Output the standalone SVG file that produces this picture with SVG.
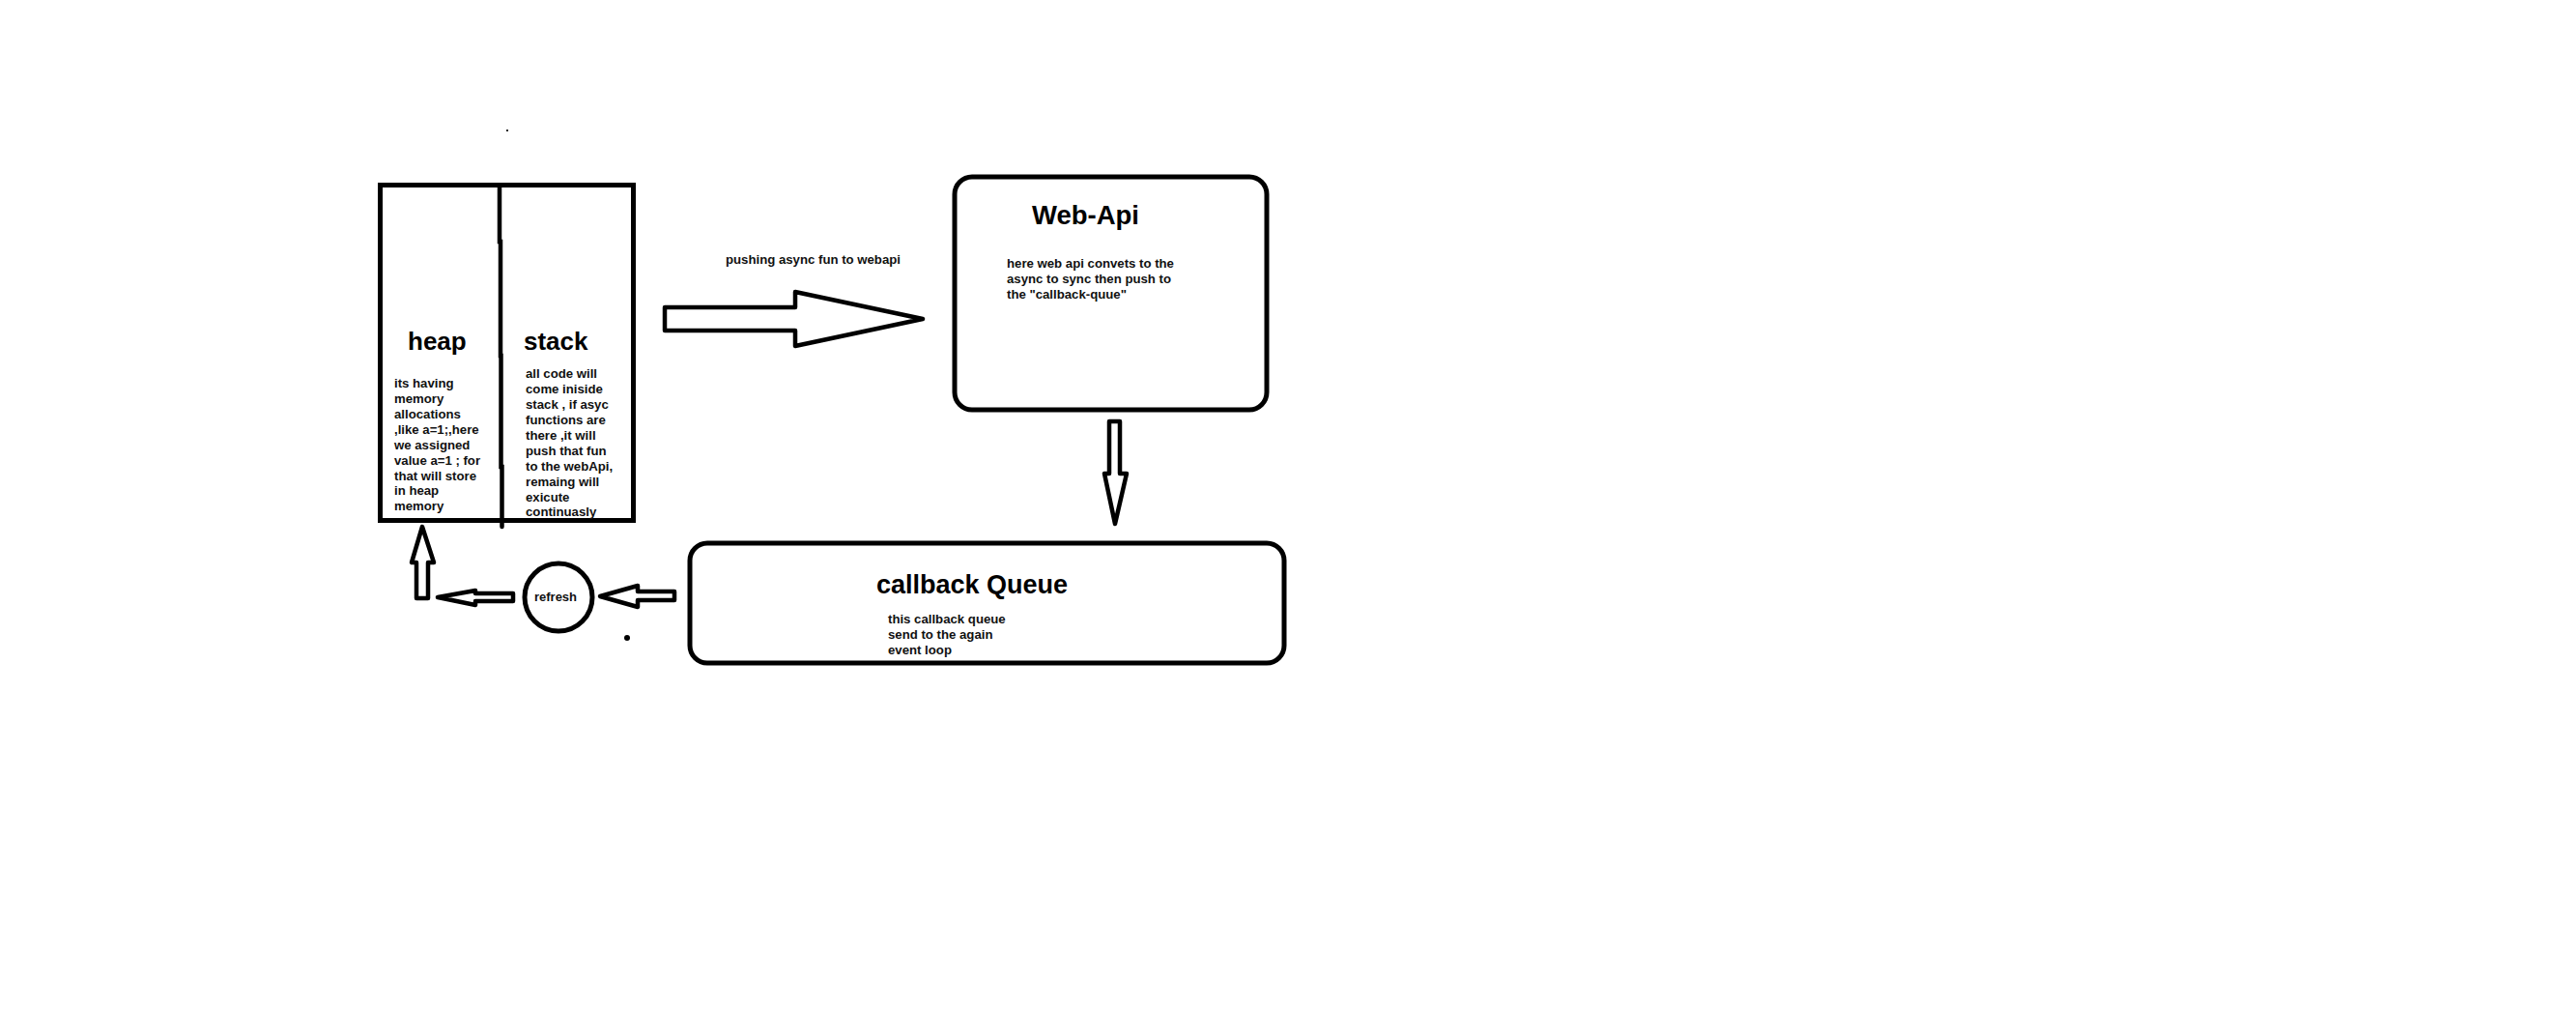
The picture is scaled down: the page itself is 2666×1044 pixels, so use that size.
<svg xmlns="http://www.w3.org/2000/svg" width="2666" height="1044" viewBox="0 0 2666 1044">
<style>
.box{fill:none;stroke:#000;stroke-width:5}
.conn{fill:none;stroke:#000;stroke-width:4.5;stroke-linejoin:round}
.title{font-family:"Liberation Sans",Arial,sans-serif;font-weight:bold;fill:#000}
.body{font-family:"Liberation Sans",Arial,sans-serif;font-weight:bold;font-size:13.2px;fill:#111}
</style>
<rect width="2666" height="1044" fill="#fff"/>
<rect x="524" y="134" width="2" height="2" fill="#222"/>
<g id="heap-stack">
<rect class="box" x="393.5" y="191.5" width="262" height="347"/>
<polyline points="517,192 517,250 518,250 518,368 518.5,368 518.5,483 519.5,483 519.5,545" fill="none" stroke="#000" stroke-width="4.5" stroke-linecap="round"/>
</g>
<g id="heap">
<text class="title" x="422" y="362" font-size="26">heap</text>
<text class="body" x="408"><tspan x="408" y="401">its having</tspan><tspan x="408" y="417">memory</tspan><tspan x="408" y="433">allocations</tspan><tspan x="408" y="448.5">,like a=1;,here</tspan><tspan x="408" y="464.5">we assigned</tspan><tspan x="408" y="480.5">value a=1 ; for</tspan><tspan x="408" y="496.5">that will store</tspan><tspan x="408" y="512">in heap</tspan><tspan x="408" y="528">memory</tspan></text>
</g>
<g id="stack">
<text class="title" x="542" y="362" font-size="26">stack</text>
<text class="body" x="544"><tspan x="544" y="391">all code will</tspan><tspan x="544" y="407">come iniside</tspan><tspan x="544" y="423">stack , if asyc</tspan><tspan x="544" y="439">functions are</tspan><tspan x="544" y="455">there ,it will</tspan><tspan x="544" y="470.5">push that fun</tspan><tspan x="544" y="486.5">to the webApi,</tspan><tspan x="544" y="502.5">remaing will</tspan><tspan x="544" y="518.5">exicute</tspan><tspan x="544" y="534">continuasly</tspan></text>
</g>
<g id="web-api">
<rect class="box" x="988" y="183" width="323" height="241" rx="18"/>
<text class="title" x="1068" y="232" font-size="27.5">Web-Api</text>
<text class="body"><tspan x="1042" y="277">here web api convets to the</tspan><tspan x="1042" y="293">async to sync then push to</tspan><tspan x="1042" y="308.5">the "callback-quue"</tspan></text>
</g>
<g id="callback-queue">
<rect class="box" x="714" y="562" width="615" height="124" rx="18"/>
<text class="title" x="907" y="614" font-size="27">callback Queue</text>
<text class="body"><tspan x="919" y="645">this callback queue</tspan><tspan x="919" y="661">send to the again</tspan><tspan x="919" y="677">event loop</tspan></text>
</g>
<g id="refresh">
<circle cx="578" cy="618" r="35" fill="none" stroke="#000" stroke-width="5"/>
<text class="body" x="575" y="622" text-anchor="middle" style="font-size:13px">refresh</text>
</g>
<g id="connectors">
<polygon class="conn" points="688,318 823,318 823,302 955,330 823,358 823,342 688,342"/>
<text class="body" x="751" y="273">pushing async fun to webapi</text>
<polygon class="conn" points="1148,436 1159,436 1159,490 1166,490 1154,542 1143,490 1148,490"/>
<polygon class="conn" points="698,612 660,612 660,606 621,617 660,628 660,621 698,621"/>
<polygon class="conn" points="531,614 492,614 492,611 453,618 492,626 492,622 531,622"/>
<polygon class="conn" points="431,619 443,619 443,582 449,582 437,545 426,582 431,582"/>
<circle cx="649" cy="660" r="3" fill="#000"/>
</g>
</svg>
